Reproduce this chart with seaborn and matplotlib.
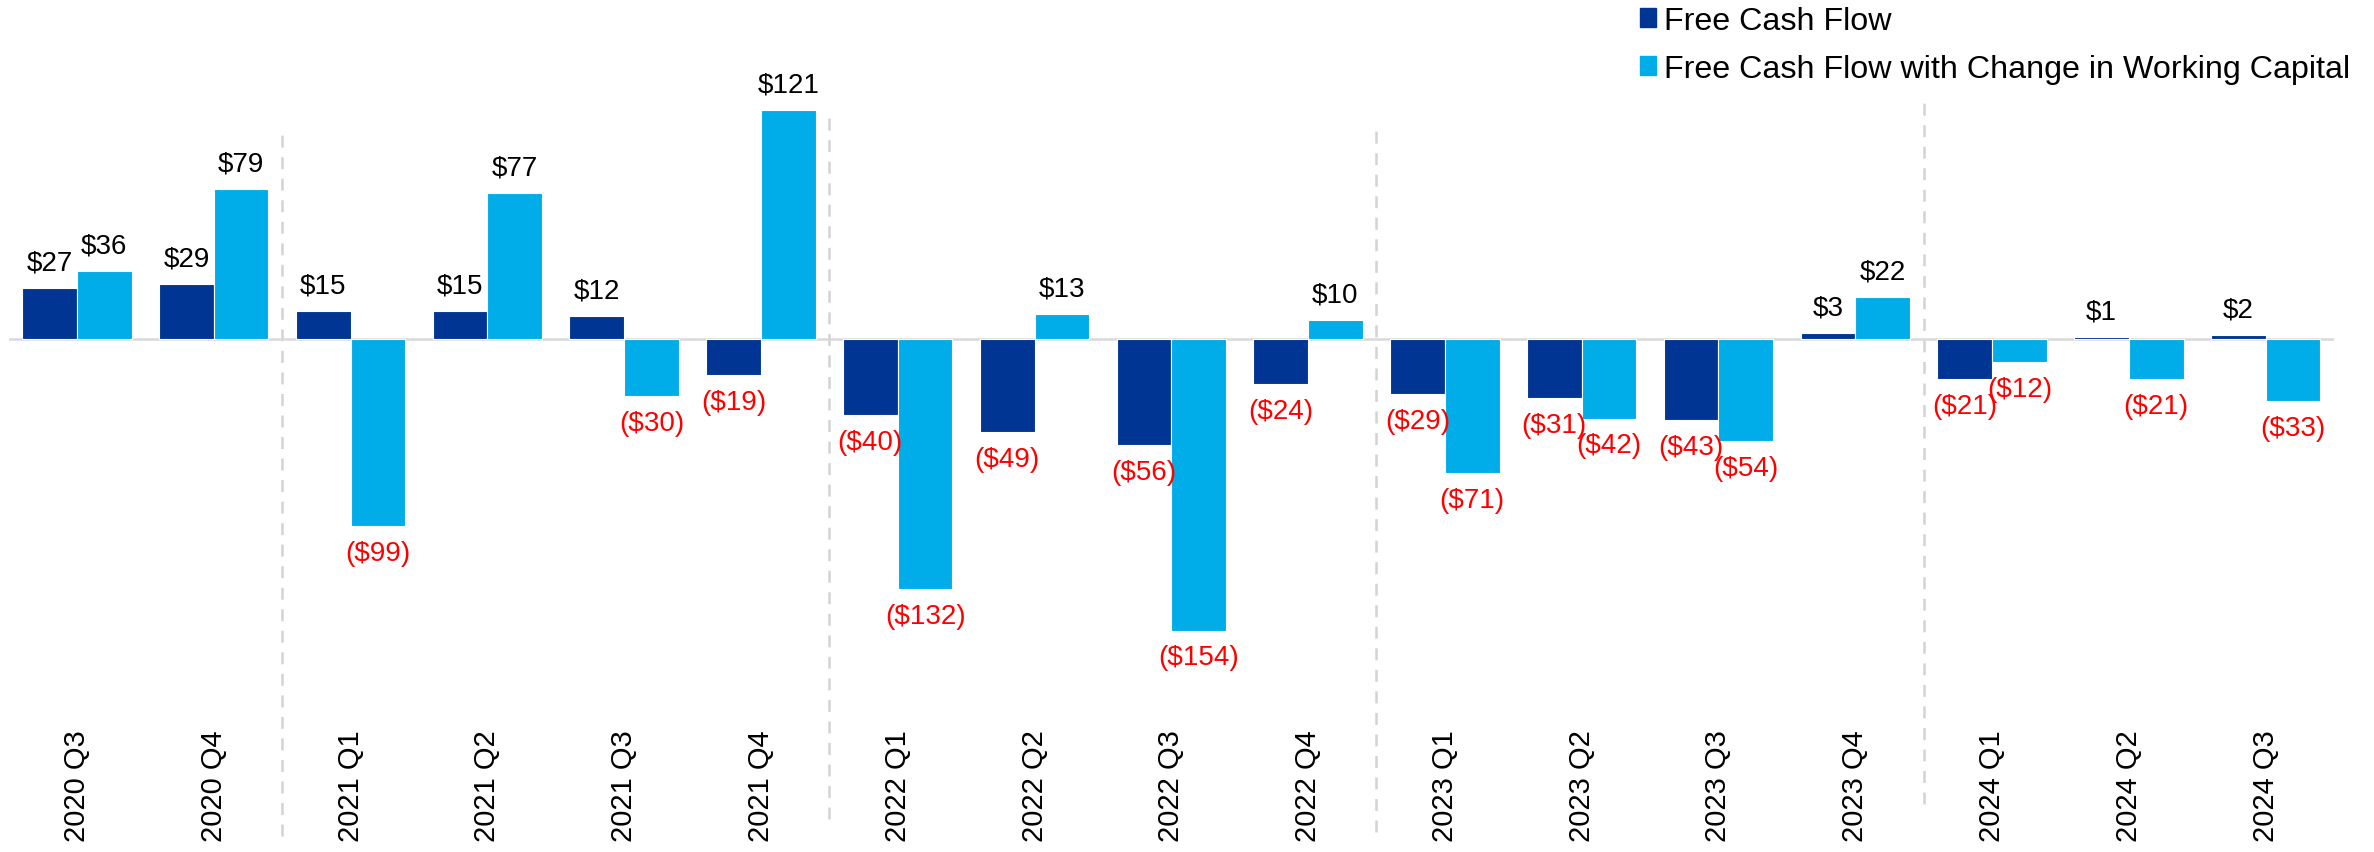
import matplotlib
matplotlib.use("Agg")
import matplotlib.pyplot as plt
import matplotlib.patches as mpatches
import seaborn as sns
import pandas as pd

# ---- data ----
quarters = ["2020 Q3", "2020 Q4", "2021 Q1", "2021 Q2", "2021 Q3", "2021 Q4",
            "2022 Q1", "2022 Q2", "2022 Q3", "2022 Q4", "2023 Q1", "2023 Q2",
            "2023 Q3", "2023 Q4", "2024 Q1", "2024 Q2", "2024 Q3"]
fcf = [27, 29, 15, 15, 12, -19, -40, -49, -56, -24, -29, -31, -43, 3, -21, 1, 2]
fcf_wc = [36, 79, -99, 77, -30, 121, -132, 13, -154, 10, -71, -42, -54, 22, -12, -21, -33]
series_names = ["Free Cash Flow", "Free Cash Flow with Change in Working Capital"]
year_breaks = [1.5, 5.5, 9.5, 13.5]

dark = "#003594"
light = "#00ADE8"

df = pd.DataFrame({
    "quarter": quarters * 2,
    "value": fcf + fcf_wc,
    "series": [series_names[0]] * len(quarters) + [series_names[1]] * len(quarters),
})

sns.set_style("white")
plt.rcParams["font.family"] = ["Liberation Sans", "DejaVu Sans"]
plt.rcParams["lines.scale_dashes"] = False
plt.rcParams["text.color"] = "black"

W, H = 2374, 853
fig = plt.figure(figsize=(W / 100, H / 100), dpi=100)
ax_left, ax_right = 8.6, 2334
ax_top, ax_bot = 100, 725
ax = fig.add_axes([ax_left / W, 1 - ax_bot / H, (ax_right - ax_left) / W, (ax_bot - ax_top) / H])

ax.axhline(0, color="#D9D9D9", lw=1.8, zorder=1)

sns.barplot(data=df, x="quarter", y="value", hue="series", order=quarters,
            hue_order=series_names, palette=[dark, light], saturation=1,
            width=0.8, edgecolor="white", linewidth=0.8, ax=ax, zorder=2)

ax.set_xlim(-0.5, len(quarters) - 0.5)
zero_px = 340
ppu = 1.893
ax.set_ylim(-(ax_bot - zero_px) / ppu, (zero_px - ax_top) / ppu)

def fmt(v):
    return f"${v}" if v >= 0 else f"(${-v})"

for cont, vals in zip(ax.containers[:2], [fcf, fcf_wc]):
    pos_labels = [fmt(v) if v >= 0 else "" for v in vals]
    neg_labels = [fmt(v) if v < 0 else "" for v in vals]
    ax.bar_label(cont, labels=pos_labels, padding=9, fontsize=20, color="black")
    ax.bar_label(cont, labels=neg_labels, padding=10, fontsize=20, color="#FF0000")

# dashed year separators
extents = [(129, 837), (115, 820), (128, 833), (98, 805)]
for xb, (yt, yb) in zip(year_breaks, extents):
    ln = ax.axvline(xb, ymin=(ax_bot - yb) / (ax_bot - ax_top),
                    ymax=(ax_bot - yt) / (ax_bot - ax_top),
                    color="#D3D3D3", lw=1.8, clip_on=False, zorder=0)
    ln.set_dashes((8.6, 6.9))

ax.set_xlabel("")
ax.set_ylabel("")
ax.set_yticks([])
ax.tick_params(axis="x", length=0, pad=4, labelsize=21, labelcolor="black")
plt.setp(ax.get_xticklabels(), rotation=90)
for s in ax.spines.values():
    s.set_visible(False)

handles = [mpatches.Patch(color=dark), mpatches.Patch(color=light)]
leg = ax.get_legend()
if leg is not None:
    leg.remove()
fig.legend(handles, series_names, loc="upper left",
           bbox_to_anchor=(1640 / W, 1 - 7 / H), frameon=False, fontsize=23.2,
           labelcolor="black",
           handlelength=0.5, handleheight=0.55, handletextpad=0.25,
           labelspacing=0.55, borderpad=0.0, borderaxespad=0.0)

fig.savefig("out.png", dpi=100)
